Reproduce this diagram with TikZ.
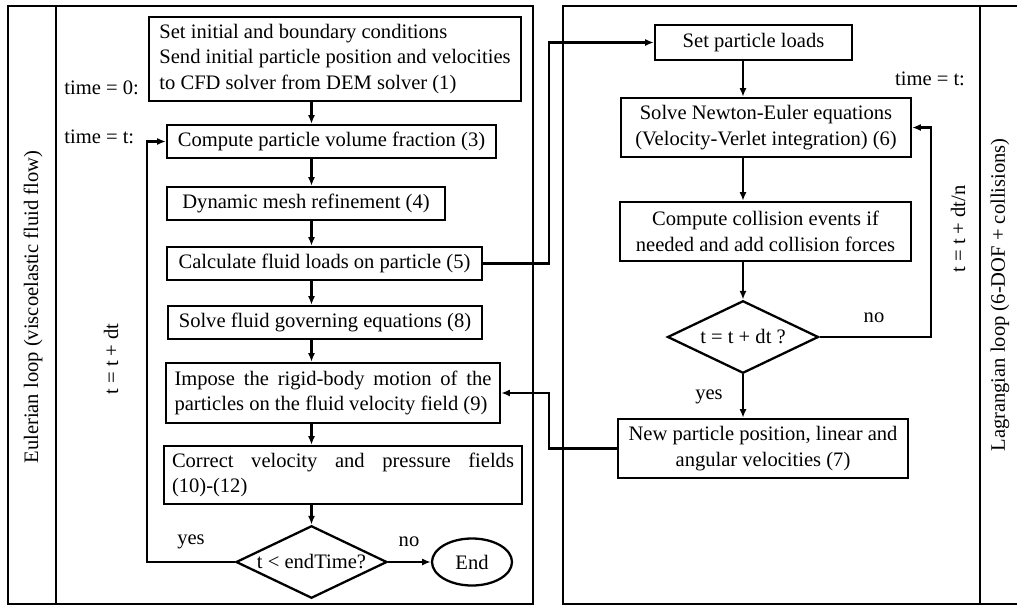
\documentclass[tikz,border=0pt]{standalone}
\usepackage{fontspec}
\setmainfont{Liberation Serif}
\usetikzlibrary{shapes.geometric, arrows.meta, positioning, calc}

\begin{document}
\begin{tikzpicture}[
  font=\fontsize{11.7pt}{14.5pt}\selectfont,
  blk/.style 2 args={draw, line width=1.3pt, minimum width=#1, minimum height=#2,
                     inner sep=0pt, align=center},
  decide/.style={diamond, draw, line width=1.3pt, aspect=2.1, minimum width=3.02cm,
                 minimum height=1.45cm, inner sep=0pt},
  flow/.style={-{Latex[length=5pt, width=4pt]}, line width=1.2pt},
  frame/.style={line width=1.3pt},
  lbl/.style={inner sep=0pt}
]
  \useasboundingbox (0,0) rectangle (20.34,-12.12);

  % ── frames ──────────────────────────────────────────────────────────────
  \draw[frame] (0.16,-0.12) rectangle (10.66,-12.08);
  \draw[frame] (1.12,-0.12) -- (1.12,-12.08);
  \draw[frame] (11.26,-0.12) rectangle (20.50,-12.08);
  \draw[frame] (19.60,-0.12) -- (19.60,-12.08);
  \node[lbl, rotate=90] (eul) at (0.66,-6.14) {Eulerian loop (viscoelastic fluid flow)};
  \node[lbl, rotate=90] (lag) at (20.00,-5.90) {Lagrangian loop (6-DOF + collisions)};

  % ── Eulerian loop (CFD) ─────────────────────────────────────────────────
  \node[blk={7.44cm}{1.68cm}, align=left] (init) at (6.70,-1.18)
    {Set initial and boundary conditions\\Send initial particle position and velocities\\to CFD solver from DEM solver (1)};
  \node[blk={6.58cm}{0.66cm}] (vf)     at (6.63,-2.83) {Compute particle volume fraction (3)};
  \node[blk={5.56cm}{0.66cm}] (mesh)   at (6.12,-4.07) {Dynamic mesh refinement (4)};
  \node[blk={6.30cm}{0.66cm}] (loads)  at (6.49,-5.27) {Calculate fluid loads on particle (5)};
  \node[blk={6.28cm}{0.66cm}] (fsolve) at (6.50,-6.45) {Solve fluid governing equations (8)};
  \node[blk={6.68cm}{1.20cm}, text width=6.34cm, align=justify] (impose) at (6.66,-7.86)
    {Impose the rigid-body motion of the particles on the fluid velocity field (9)};
  \node[blk={7.16cm}{1.16cm}, text width=6.84cm, align=justify] (correct) at (6.86,-9.50)
    {Correct velocity and pressure fields \mbox{(10)-(12)}};
  \node[decide] (endq) at (6.23,-11.24) {t < endTime?};
  \node[ellipse, draw, line width=1.3pt, minimum width=1.60cm, minimum height=0.94cm,
        inner sep=0pt] (fin) at (9.44,-11.24) {End};

  \node[lbl, anchor=west] (t0)  at (1.28,-1.76) {time = 0:};
  \node[lbl, anchor=west] (tt)  at (1.28,-2.74) {time = t:};
  \node[lbl, rotate=90]   (dtl) at (2.22,-7.18) {t = t + dt};
  \node[lbl] (yes1) at (3.82,-10.84) {yes};
  \node[lbl] (no1)  at (8.18,-10.84) {no};

  \coordinate (lx) at (6.23,0);
  \coordinate (lloop) at (2.94,0);
  \draw[flow] (init.south -| lx)   -- (vf.north -| lx);
  \draw[flow] (vf.south -| lx)     -- (mesh.north -| lx);
  \draw[flow] (mesh.south -| lx)   -- (loads.north -| lx);
  \draw[flow] (loads.south -| lx)  -- (fsolve.north -| lx);
  \draw[flow] (fsolve.south -| lx) -- (impose.north -| lx);
  \draw[flow] (impose.south -| lx) -- (correct.north -| lx);
  \draw[flow] (correct.south -| lx) -- (endq.north);
  \draw[flow] (endq.west) -| (lloop |- vf.west) -- (vf.west);   % yes: next time step
  \draw[flow] (endq.east) -- (fin.west);                        % no: stop

  % ── Lagrangian loop (DEM) ───────────────────────────────────────────────
  \node[blk={3.94cm}{0.70cm}] (sload)  at (15.07,-0.85) {Set particle loads};
  \node[blk={5.80cm}{1.18cm}] (newton) at (15.32,-2.55)
    {Solve Newton-Euler equations\\(Velocity-Verlet integration) (6)};
  \node[blk={5.82cm}{1.18cm}] (coll)   at (15.31,-4.63)
    {Compute collision events if\\needed and add collision forces};
  \node[decide] (stepq) at (14.86,-6.74) {t = t + dt ?};
  \node[blk={5.80cm}{1.18cm}] (newpos) at (15.26,-8.97)
    {New particle position, linear and\\angular velocities (7)};

  \node[lbl] (tt2)  at (18.60,-1.58) {time = t:};
  \node[lbl, rotate=90] (dtn) at (19.16,-4.58) {t = t + dt/n};
  \node[lbl] (no2)  at (17.48,-6.36) {no};
  \node[lbl] (yes2) at (14.18,-7.94) {yes};

  \coordinate (rx) at (14.86,0);
  \coordinate (rloop) at (18.62,0);
  \draw[flow] (sload.south -| rx)  -- (newton.north -| rx);
  \draw[flow] (newton.south -| rx) -- (coll.north -| rx);
  \draw[flow] (coll.south -| rx)   -- (stepq.north);
  \draw[flow] (stepq.south)        -- (newpos.north -| rx);
  \draw[flow] (stepq.east) -| (rloop |- newton.east) -- (newton.east);  % sub-step

  % ── coupling ────────────────────────────────────────────────────────────
  \coordinate (bus) at (10.98,0);
  \draw[flow] (loads.east) -| (bus |- sload.west) -- (sload.west);       % CFD -> DEM
  \draw[flow] (newpos.west) -| (bus |- impose.east) -- (impose.east);    % DEM -> CFD
\end{tikzpicture}
\end{document}
